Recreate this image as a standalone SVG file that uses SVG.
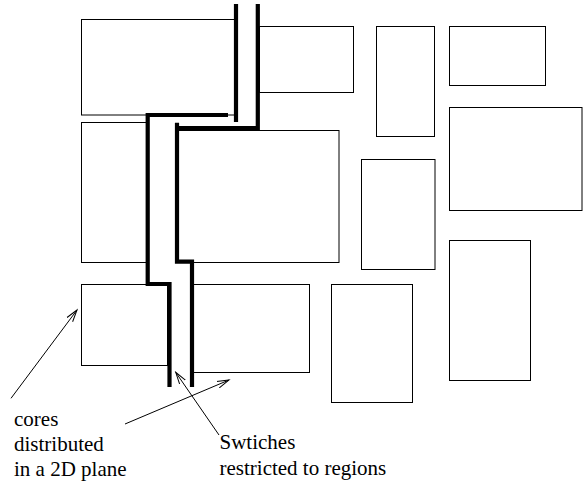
<svg xmlns="http://www.w3.org/2000/svg" width="583" height="484" viewBox="0 0 583 484">
  <style>
    .core { fill: #fff; stroke: #000; stroke-width: 1; }
    .switch { fill: none; stroke: #000; stroke-width: 4.2; stroke-linejoin: miter; stroke-linecap: butt; }
    .pointer { fill: none; stroke: #000; stroke-width: 1; }
    .label { font-family: "Liberation Serif", "Times New Roman", serif; font-size: 21px; fill: #000; }
  </style>
  <defs>
    <marker id="open-arrow" markerUnits="userSpaceOnUse" markerWidth="14" markerHeight="10" refX="12" refY="5" orient="auto">
      <path d="M0,1.5 L12,5 L0,8.5" fill="none" stroke="#000" stroke-width="1"/>
    </marker>
  </defs>

  <rect width="583" height="484" fill="#fff"/>

  <!-- cores -->
  <g id="core-a"><rect class="core" x="81.5" y="19.5" width="154" height="95.5"/></g>
  <g id="core-b"><rect class="core" x="259.5" y="26.5" width="94" height="66"/></g>
  <g id="core-c"><rect class="core" x="376.5" y="26.5" width="58" height="110"/></g>
  <g id="core-d"><rect class="core" x="449.5" y="26.5" width="96" height="59"/></g>
  <g id="core-e"><rect class="core" x="81.5" y="122.5" width="65.5" height="140"/></g>
  <g id="core-f"><rect class="core" x="177.5" y="130.5" width="161.5" height="132"/></g>
  <g id="core-g"><rect class="core" x="361.5" y="159.5" width="73.5" height="110"/></g>
  <g id="core-h"><rect class="core" x="449.5" y="107.5" width="132.5" height="103"/></g>
  <g id="core-i"><rect class="core" x="449.5" y="240.5" width="81" height="140"/></g>
  <g id="core-j"><rect class="core" x="81.5" y="284.5" width="86" height="81"/></g>
  <g id="core-k"><rect class="core" x="193.5" y="284.5" width="116" height="88"/></g>
  <g id="core-l"><rect class="core" x="331.5" y="284.5" width="81" height="118"/></g>

  <!-- switch wiring restricted to channels between cores -->
  <g id="switches">
    <path class="switch" d="M236,4 V122"/>
    <path class="switch" d="M228,115 H147.7 V284 H169.5 V387"/>
    <path class="switch" d="M257.8,4 V128 H177"/>
    <path class="switch" d="M177,122.7 V261.7 H192 V387"/>
  </g>

  <!-- annotation pointers -->
  <g id="connectors">
    <line class="pointer" x1="11" y1="398.3" x2="77" y2="310" marker-end="url(#open-arrow)"/>
    <line class="pointer" x1="125" y1="424" x2="229" y2="380" marker-end="url(#open-arrow)"/>
    <line class="pointer" x1="219" y1="435" x2="175.7" y2="372.3" marker-end="url(#open-arrow)"/>
  </g>

  <!-- labels -->
  <g id="label-cores">
    <text class="label" x="14" y="426">cores</text>
    <text class="label" x="14" y="451">distributed</text>
    <text class="label" x="14" y="475.5">in a 2D plane</text>
  </g>
  <g id="label-switches">
    <text class="label" x="219.5" y="449">Swtiches</text>
    <text class="label" x="219.5" y="474.5">restricted to regions</text>
  </g>
</svg>
